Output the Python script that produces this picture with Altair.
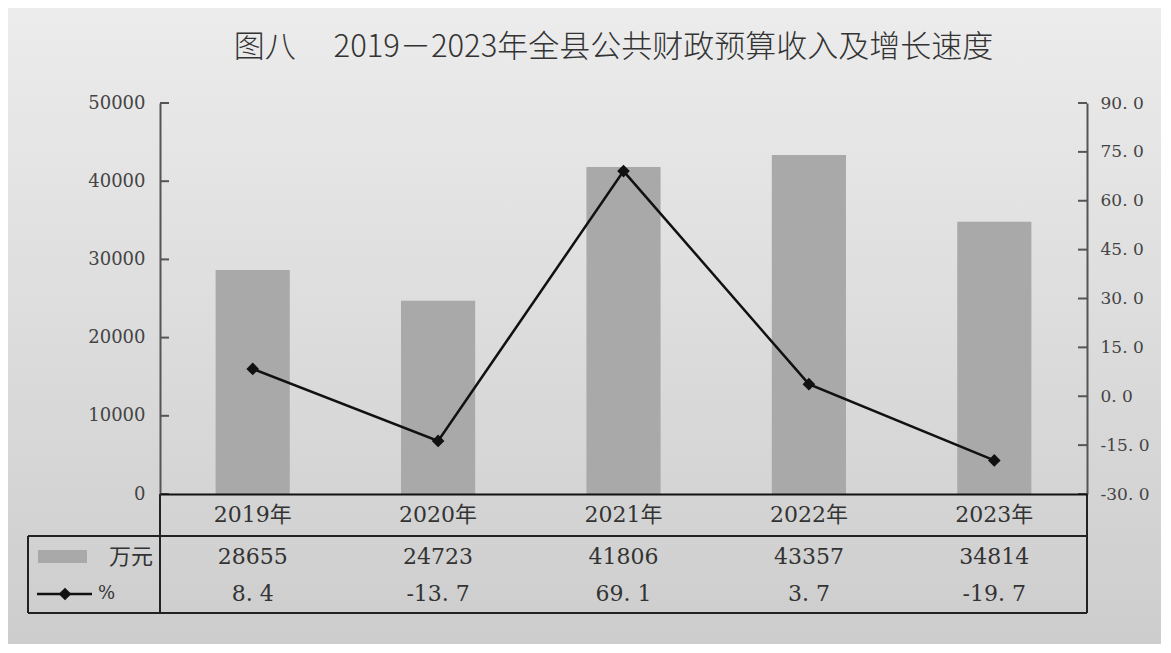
import altair as alt
import pandas as pd

# ---- data ----
years = ["2019年", "2020年", "2021年", "2022年", "2023年"]
revenue = [28655, 24723, 41806, 43357, 34814]
growth = [8.4, -13.7, 69.1, 3.7, -19.7]
left_ticks = [0, 10000, 20000, 30000, 40000, 50000]
right_ticks = [-30, -15, 0, 15, 30, 45, 60, 75, 90]
row_labels = ["万元", "%"]
title_text = "图八　  2019－2023年全县公共财政预算收入及增长速度"

# ---- layout / style ----
W, H = 927, 391
PAD = {"left": 152, "top": 95, "right": 74, "bottom": 150}
SERIF = "DejaVu Serif, Noto Sans CJK SC"
CJK = "Noto Sans CJK SC"
BAR = "#a9a9a9"
INK = "#111111"
AX = "#555555"

df = pd.DataFrame({"year": years, "revenue": revenue, "growth": growth})
one = pd.DataFrame({"k": [0]})

x_enc = alt.X(
    "year:N", sort=years, title=None,
    scale=alt.Scale(paddingInner=0.6, paddingOuter=0.3),
    axis=alt.Axis(domainColor=INK, domainWidth=2, ticks=False, tickSize=0,
                  labelPadding=10, labelFontSize=22, labelFont=SERIF,
                  labelColor="#333333", labelAngle=0, grid=False, zindex=2),
)

bg = alt.Chart(one).mark_rect(
    color=alt.LinearGradient(
        gradient="linear",
        stops=[alt.GradientStop(color="#ececec", offset=0),
               alt.GradientStop(color="#cdcdcd", offset=1)],
        x1=0, x2=0, y1=0, y2=1)
).encode(x=alt.value(-PAD["left"]), x2=alt.value(W + PAD["right"]),
         y=alt.value(-PAD["top"]), y2=alt.value(H + PAD["bottom"]))

title = alt.Chart(pd.DataFrame({"t": [title_text]})).mark_text(
    font=CJK, fontSize=31, fontWeight=300, color="#333333", align="center",
    baseline="middle").encode(
    x=alt.value(W / 2 - 10), y=alt.value(-55), text="t:N")

bars = alt.Chart(df).mark_bar(color=BAR).encode(
    x=x_enc,
    y=alt.Y("revenue:Q", scale=alt.Scale(domain=[0, 50000], nice=False),
            axis=alt.Axis(orient="left", values=left_ticks, format="d", ticks=False,
                          grid=False, domainColor=AX, domainWidth=2, labelFont=SERIF,
                          labelFontSize=18, labelColor="#444444", labelPadding=15,
                          title=None, zindex=1)),
)

left_tick_rules = alt.Chart(pd.DataFrame({"v": left_ticks})).mark_rule(
    color=AX, strokeWidth=2).encode(
    y=alt.Y("v:Q", scale=alt.Scale(domain=[0, 50000], nice=False), axis=None),
    x=alt.value(0), x2=alt.value(9))

line = alt.Chart(df).mark_line(color=INK, strokeWidth=2.5).encode(
    x=x_enc,
    y=alt.Y("growth:Q", scale=alt.Scale(domain=[-30, 90], nice=False),
            axis=alt.Axis(orient="right", values=right_ticks, ticks=False, grid=False,
                          labelExpr="replace(replace(format(datum.value, '.1f'), '.', '. '), '\u2212', '-')",
                          domainColor=AX, domainWidth=2, labelFont=SERIF,
                          labelFontSize=17, labelColor="#444444", labelPadding=13,
                          title=None, zindex=1)),
)

points = alt.Chart(df).mark_point(shape="diamond", filled=True, size=160,
                                  color=INK, opacity=1).encode(
    x=x_enc,
    y=alt.Y("growth:Q", scale=alt.Scale(domain=[-30, 90], nice=False), axis=None),
)

right_tick_rules = alt.Chart(pd.DataFrame({"v": right_ticks})).mark_rule(
    color=AX, strokeWidth=2).encode(
    y=alt.Y("v:Q", scale=alt.Scale(domain=[-30, 90], nice=False), axis=None),
    x=alt.value(W - 9), x2=alt.value(W))

# ---- data table below the plot ----
ROW1, ROW2 = 454, 491
TOP, BOT, LEFT = 433, 510, -132

val_text = alt.Chart(df).mark_text(font=SERIF, fontSize=22, color="#333333").encode(
    x=x_enc, y=alt.value(ROW1), text=alt.Text("revenue:Q", format="d"))

growth_text = alt.Chart(df).transform_calculate(
    lbl="replace(toString(datum.growth), '.', '. ')"
).mark_text(font=SERIF, fontSize=22, color="#333333").encode(
    x=x_enc, y=alt.value(ROW2), text="lbl:N")

lab1 = alt.Chart(pd.DataFrame({"t": [row_labels[0]]})).mark_text(
    font=CJK, fontSize=22, color="#333333", align="right").encode(
    x=alt.value(-7), y=alt.value(ROW1), text="t:N")
lab2 = alt.Chart(pd.DataFrame({"t": [row_labels[1]]})).mark_text(
    font=SERIF, fontSize=18, color="#333333", align="left").encode(
    x=alt.value(-62), y=alt.value(ROW2), text="t:N")

swatch = alt.Chart(one).mark_rect(color=BAR).encode(
    x=alt.value(-122), x2=alt.value(-73), y=alt.value(ROW1 - 7), y2=alt.value(ROW1 + 6))
leg_line = alt.Chart(one).mark_rule(color=INK, strokeWidth=2.5).encode(
    x=alt.value(-123), x2=alt.value(-68), y=alt.value(ROW2))
leg_pt = alt.Chart(one).mark_point(shape="diamond", filled=True, size=160,
                                   color=INK, opacity=1).encode(
    x=alt.value(-95), y=alt.value(ROW2))


def hrule(y):
    return alt.Chart(one).mark_rule(color="#222222", strokeWidth=2).encode(
        x=alt.value(LEFT), x2=alt.value(W), y=alt.value(y))


def vrule(x, y1, y2):
    return alt.Chart(one).mark_rule(color="#222222", strokeWidth=2).encode(
        x=alt.value(x), y=alt.value(y1), y2=alt.value(y2))


grid_rules = [hrule(TOP), hrule(BOT), vrule(LEFT, TOP, BOT), vrule(0, H, BOT), vrule(W, H, BOT)]

chart = alt.layer(
    bg, title, bars, left_tick_rules, line, points, right_tick_rules,
    val_text, growth_text, lab1, lab2, swatch, leg_line, leg_pt, *grid_rules,
).resolve_scale(y="independent").properties(
    width=W, height=H,
    autosize=alt.AutoSizeParams(type="none"),
    padding=PAD,
).configure_view(stroke=None)

chart.save("out.html", embed_options={"renderer": "svg", "actions": False})
